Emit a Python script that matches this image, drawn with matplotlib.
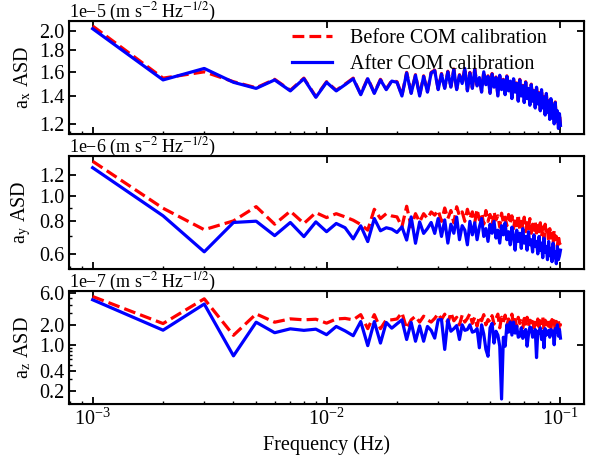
import numpy as np
import matplotlib
matplotlib.use("Agg")
import matplotlib.pyplot as plt
from matplotlib.ticker import LogLocator, NullLocator, NullFormatter, FixedLocator

plt.rcParams['font.family'] = ['Liberation Serif', 'DejaVu Serif']
plt.rcParams['mathtext.fontset'] = 'stix'

# frequency bins, 1 mHz .. 100 mHz
freq = np.arange(1, 101) * 1e-3

# a_x ASD, units of 1e-5
ax_before = [2.06, 1.545, 1.60, 1.515, 1.465, 1.535, 1.445, 1.545, 1.395, 1.515,
             1.445, 1.495, 1.545, 1.415, 1.545, 1.425, 1.535, 1.455, 1.525, 1.515,
             1.405, 1.595, 1.425, 1.575, 1.405, 1.565, 1.435, 1.595, 1.615, 1.455,
             1.585, 1.465, 1.605, 1.475, 1.625, 1.455, 1.575, 1.505, 1.635, 1.445,
             1.595, 1.465, 1.625, 1.485, 1.555, 1.435, 1.605, 1.495, 1.565, 1.425,
             1.585, 1.475, 1.555, 1.405, 1.575, 1.455, 1.535, 1.415, 1.565, 1.445,
             1.525, 1.385, 1.545, 1.435, 1.505, 1.365, 1.535, 1.405, 1.485, 1.355,
             1.515, 1.385, 1.465, 1.335, 1.495, 1.365, 1.445, 1.315, 1.475, 1.345,
             1.425, 1.295, 1.455, 1.315, 1.395, 1.265, 1.425, 1.285, 1.365, 1.235,
             1.385, 1.245, 1.335, 1.205, 1.355, 1.225, 1.295, 1.175, 1.275, 1.195]
ax_after = [2.03, 1.53, 1.63, 1.51, 1.46, 1.53, 1.44, 1.54, 1.39, 1.51,
            1.44, 1.49, 1.54, 1.41, 1.54, 1.42, 1.53, 1.45, 1.52, 1.51,
            1.40, 1.59, 1.42, 1.57, 1.40, 1.56, 1.43, 1.59, 1.61, 1.45,
            1.58, 1.46, 1.60, 1.47, 1.62, 1.45, 1.57, 1.50, 1.63, 1.44,
            1.59, 1.46, 1.62, 1.48, 1.55, 1.43, 1.60, 1.49, 1.56, 1.42,
            1.58, 1.47, 1.55, 1.40, 1.57, 1.45, 1.53, 1.41, 1.56, 1.44,
            1.52, 1.38, 1.54, 1.43, 1.50, 1.36, 1.53, 1.40, 1.48, 1.35,
            1.51, 1.38, 1.46, 1.33, 1.49, 1.36, 1.44, 1.31, 1.47, 1.34,
            1.42, 1.29, 1.45, 1.31, 1.39, 1.26, 1.42, 1.28, 1.36, 1.23,
            1.38, 1.24, 1.33, 1.20, 1.35, 1.22, 1.29, 1.17, 1.27, 1.19]

# a_y ASD, units of 1e-6
ay_before = [1.36, 0.898, 0.743, 0.803, 0.911, 0.78, 0.875, 0.785, 0.864, 0.827,
             0.856, 0.832, 0.808, 0.778, 0.740, 0.890, 0.820, 0.856, 0.839, 0.832,
             0.762, 0.914, 0.762, 0.856, 0.796, 0.856, 0.820, 0.869, 0.845, 0.882,
             0.80, 0.90, 0.82, 0.88, 0.79, 0.91, 0.84, 0.87, 0.80, 0.89,
             0.82, 0.87, 0.79, 0.89, 0.81, 0.86, 0.78, 0.88, 0.80, 0.85,
             0.77, 0.87, 0.81, 0.84, 0.76, 0.86, 0.79, 0.83, 0.77, 0.85,
             0.78, 0.84, 0.75, 0.82, 0.77, 0.85, 0.74, 0.80, 0.76, 0.83,
             0.73, 0.79, 0.75, 0.82, 0.72, 0.78, 0.74, 0.80, 0.71, 0.77,
             0.73, 0.79, 0.70, 0.76, 0.68, 0.78, 0.71, 0.74, 0.67, 0.75,
             0.69, 0.72, 0.66, 0.74, 0.68, 0.70, 0.64, 0.71, 0.66, 0.65]
ay_after = [1.285, 0.84, 0.611, 0.792, 0.801, 0.705, 0.792, 0.699, 0.796, 0.730,
            0.785, 0.756, 0.685, 0.769, 0.669, 0.820, 0.736, 0.756, 0.747, 0.725,
            0.762, 0.678, 0.832, 0.659, 0.796, 0.719, 0.751, 0.792, 0.719, 0.820,
            0.70, 0.81, 0.66, 0.78, 0.72, 0.83, 0.68, 0.77, 0.74, 0.65,
            0.80, 0.71, 0.79, 0.68, 0.76, 0.82, 0.70, 0.75, 0.67, 0.78,
            0.72, 0.80, 0.69, 0.74, 0.66, 0.77, 0.71, 0.79, 0.68, 0.73,
            0.65, 0.76, 0.70, 0.62, 0.74, 0.67, 0.72, 0.63, 0.75, 0.66,
            0.70, 0.62, 0.73, 0.65, 0.68, 0.61, 0.71, 0.64, 0.67, 0.60,
            0.70, 0.62, 0.66, 0.58, 0.69, 0.61, 0.64, 0.57, 0.67, 0.59,
            0.63, 0.56, 0.66, 0.58, 0.61, 0.55, 0.64, 0.57, 0.59, 0.62]

# a_z ASD, units of 1e-7
az_before = [5.35, 2.09, 4.94, 1.39, 2.92, 2.19, 2.46, 2.38, 2.43, 2.12,
             2.45, 2.50, 2.38, 2.85, 1.75, 2.85, 1.75, 2.38, 2.38, 2.45,
             3.05, 1.75, 2.38, 2.70, 2.20, 2.70, 2.38, 2.20, 2.50, 2.95,
             2.40, 2.90, 2.10, 3.05, 2.30, 2.60, 2.00, 2.80, 2.20, 2.50,
             2.95, 2.10, 2.60, 1.90, 2.70, 2.30, 2.85, 2.00, 2.40, 2.20,
             2.75, 2.05, 2.50, 2.90, 1.80, 2.60, 2.20, 2.80, 1.95, 2.45,
             2.20, 2.90, 2.00, 2.40, 1.85, 2.60, 2.10, 2.30, 1.80, 2.50,
             2.05, 2.60, 1.90, 2.35, 2.15, 2.55, 1.80, 2.40, 2.00, 2.45,
             1.85, 2.30, 2.10, 2.60, 1.75, 2.35, 2.00, 2.50, 1.90, 2.20,
             1.70, 2.40, 2.00, 2.30, 1.60, 2.25, 1.95, 2.35, 1.55, 2.10]
az_after = [4.78, 1.66, 4.12, 0.68, 2.19, 1.52, 1.74, 1.65, 1.72, 1.42,
            1.89, 1.62, 1.37, 2.24, 0.97, 2.24, 1.06, 2.17, 1.78, 2.07,
            2.38, 1.20, 2.17, 1.13, 1.93, 1.13, 1.89, 1.65, 1.26, 2.38,
            2.40, 0.85, 2.38, 1.60, 1.75, 1.95, 1.20, 2.00, 1.65, 1.70,
            2.00, 1.55, 1.60, 1.75, 0.90, 2.00, 1.45, 0.85, 0.67, 1.80,
            2.10, 1.06, 1.60, 1.40, 0.95, 0.152, 1.30, 0.95, 2.00, 1.55,
            2.20, 1.40, 2.20, 1.50, 1.90, 1.30, 1.35, 1.80, 1.25, 1.55,
            1.70, 0.95, 1.45, 1.85, 1.80, 1.30, 1.35, 1.70, 0.64, 1.60,
            1.50, 1.80, 1.20, 1.60, 0.90, 1.75, 1.40, 1.50, 1.65, 1.30,
            1.70, 1.45, 1.60, 1.00, 1.75, 1.55, 2.00, 1.35, 1.70, 1.26]

ylabels = [r'a$_{\rm x}$ ASD', r'a$_{\rm y}$ ASD', r'a$_{\rm z}$ ASD']
units = ['1e\u22125', '1e\u22126', '1e\u22127']
yticks = [[1.2, 1.4, 1.6, 1.8, 2.0], [0.6, 0.8, 1.0, 1.2], [0.2, 0.4, 1.0, 2.0, 6.0]]
right_ticks = [[2.0], [1.0], [1.0]]
series = [(ax_before, ax_after), (ay_before, ay_after), (az_before, az_after)]

fig, axes = plt.subplots(3, 1, figsize=(5.97, 4.65), dpi=100, sharex=True)
fig.subplots_adjust(left=0.116, right=0.978, top=0.955, bottom=0.131, hspace=0.2)

for i, ax in enumerate(axes):
    before, after = series[i]
    ax.plot(freq, before, color='red', ls='--', lw=2.3, label='Before COM calibration')
    ax.plot(freq, after, color='blue', ls='-', lw=2.3, label='After COM calibration')
    ax.set_xscale('log')
    ax.set_yscale('log')
    ax.set_yticks(yticks[i], ['%.1f' % t for t in yticks[i]])
    if i == 0:
        ax.yaxis.set_minor_locator(NullLocator())
    else:
        ax.yaxis.set_minor_locator(LogLocator(base=10, subs=np.arange(2, 10)))
    ax.yaxis.set_minor_formatter(NullFormatter())
    ax.set_ylabel(ylabels[i], fontsize=14.5)
    ax.text(0.0, 1.036, units[i] + r' (m s$^{-2}$ Hz$^{-1/2}$)', transform=ax.transAxes,
            ha='left', va='baseline', fontsize=13)
    ax.tick_params(which='major', direction='in', length=5, width=1.3, labelsize=14.5, top=True)
    ax.tick_params(which='minor', direction='in', length=2.5, width=1.0)
    for s in ax.spines.values():
        s.set_linewidth(1.5)
    # right-hand ticks
    tw = ax.twinx()
    tw.set_yscale('log')
    tw.set_ylim(ax.get_ylim())
    tw.yaxis.set_major_locator(FixedLocator(right_ticks[i]))
    tw.yaxis.set_minor_locator(NullLocator())
    tw.tick_params(direction='in', length=5, width=1.3, labelright=False)

axes[0].legend(loc='upper right', bbox_to_anchor=(0.944, 1.0), frameon=False,
               fontsize=14.5, handlelength=2.0, handletextpad=0.9,
               borderaxespad=0.0, labelspacing=0.35)
axes[2].set_xlabel('Frequency (Hz)', fontsize=14.5)

plt.savefig('out.png', dpi=100)
